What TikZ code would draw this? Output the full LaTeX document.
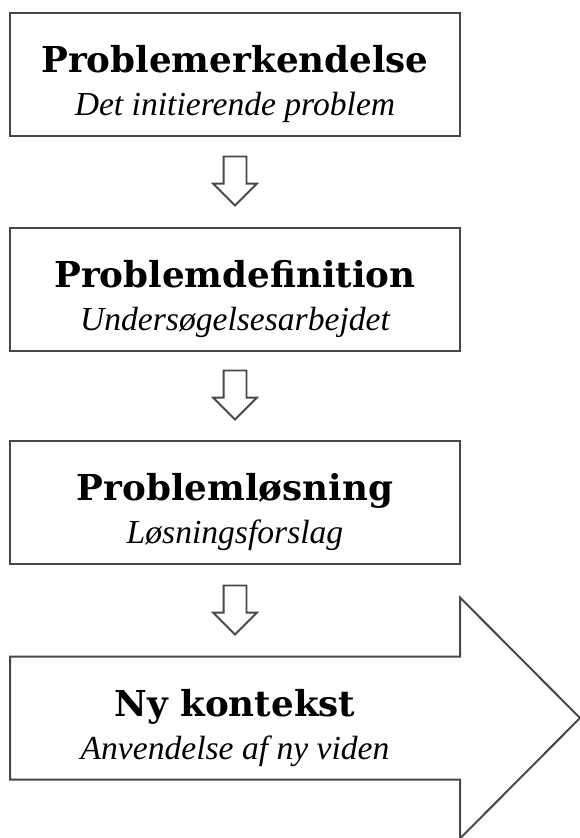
\documentclass[tikz,border=0pt]{standalone}
\usepackage{fontspec}
\newfontfamily\headfont{DejaVu Serif}
\newfontfamily\subfont{Liberation Serif}
\usetikzlibrary{positioning,shapes.arrows}

\tikzset{
  stage/.style={rectangle, minimum width=450pt, minimum height=123pt,
    inner sep=0pt, outer sep=0pt, align=center, text height=90pt, text depth=8pt,
    font=\fontsize{33.6}{43}\selectfont},
  stagebox/.style={stage, draw=black!72, line width=2pt},
  downarrow/.style={single arrow, draw=black!72, line width=1.8pt,
    minimum height=49pt, minimum width=42pt, single arrow head extend=10.5pt,
    single arrow head indent=0pt, shape border rotate=270,
    inner sep=10.5pt, outer sep=0pt},
}

\begin{document}
\begin{tikzpicture}[x=1pt,y=-1pt]
\useasboundingbox (0,0) rectangle (580,838);
\node [stagebox] (erkend) at (235,74)
  {{\headfont\bfseries\fontsize{35.7}{43}\selectfont Problemerkendelse}\\{\subfont\itshape Det initierende problem}};
\node [downarrow, below=21pt of erkend, anchor=tail] (pil1) {};
\node [stagebox, below=22pt of pil1.tip] (defin)
  {{\headfont\bfseries\fontsize{35.7}{43}\selectfont Problemdefinition}\\{\subfont\itshape Undersøgelsesarbejdet}};
\node [downarrow, below=20pt of defin, anchor=tail] (pil2) {};
\node [stagebox, below=21pt of pil2.tip] (loesn)
  {{\headfont\bfseries\fontsize{35.7}{43}\selectfont Problemløsning}\\{\subfont\itshape Løsningsforslag}};
\node [downarrow, below=22pt of loesn, anchor=tail] (pil3) {};
\node [stage, below=22pt of pil3.tip] (kontekst)
  {{\headfont\bfseries\fontsize{35.7}{43}\selectfont Ny kontekst}\\{\subfont\itshape Anvendelse af ny viden}};
% big arrow round the last stage
\draw [draw=black!72, line width=2pt, line join=miter]
  (kontekst.south west) -- (kontekst.north west) -- (kontekst.north east)
  -- ++(0,-59) -- ([xshift=120pt]kontekst.east)
  -- ([yshift=-59pt]kontekst.south east) -- (kontekst.south east) -- cycle;
\end{tikzpicture}
\end{document}
